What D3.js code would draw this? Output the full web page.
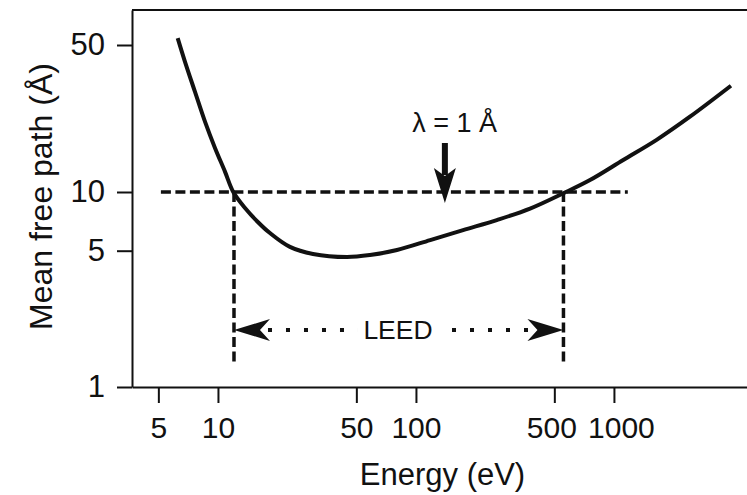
<!DOCTYPE html>
<html>
<head>
<meta charset="utf-8">
<script src="https://cdn.jsdelivr.net/npm/d3@7"></script>
<style>
  body { margin: 0; background: #fff; }
  svg { display: block; font-family: "Liberation Sans", Arial, sans-serif; }
</style>
</head>
<body>
<svg id="chart"></svg>
<script>
// curve: energy (eV) vs mean free path (Å)
const energy = [6.26, 6.81, 7.65, 8.6, 9.66, 10.85, 11.95, 13.7, 15.9, 18.3, 23.1, 30.2, 44.8, 58.6, 80.2, 118, 173, 256, 377, 555, 757, 1114, 1643, 2421, 3899];
const freePath = [53.9, 41.7, 30.0, 21.6, 16.2, 12.5, 10.0, 8.28, 7.02, 6.16, 5.23, 4.81, 4.64, 4.75, 5.04, 5.67, 6.38, 7.18, 8.22, 9.85, 11.4, 14.2, 17.7, 22.8, 32.0];

// tick labels
const xTicks = [5, 10, 50, 100, 500, 1000];
const yTicks = [1, 5, 10, 50];

// annotation values
const refLambda = 10;            // horizontal dashed line
const refRange = [5.15, 1175];   // its energy extent
const leedBounds = [12.05, 556]; // vertical dashed lines
const leedBottom = 1.3;
const leedLevel = 1.96;
const arrowEnergy = 140;
const arrowSpan = [17.1, 8.78];
const labelLambda = { text: "λ = 1 Å", e: 157, l: 19.3 };

const width = 747;
const height = 495;

const svg = d3.select("#chart").attr("width", width).attr("height", height);

// x is a plain log scale, y is piecewise log (the printed axis is not quite even)
const x = d3.scaleLog().domain([3.68, 4700]).range([132, 747]);
const y = d3.scaleLog().domain([1, 10, 50, 73.4]).range([387, 192, 45, 10]);

const ink = "#111";

// axes
const xAxis = svg.append("g")
  .attr("transform", `translate(0,${y(1)})`)
  .call(d3.axisBottom(x).tickValues(xTicks).tickFormat(d3.format("d"))
    .tickSize(16).tickSizeOuter(0).tickPadding(14));

// the printed labels for 500 and 1000 sit slightly apart from their ticks
const labelNudge = { 500: -3, 1000: 7 };
xAxis.selectAll(".tick text").attr("dx", d => labelNudge[d] || 0);

const yAxis = svg.append("g")
  .attr("transform", `translate(${x.range()[0]},0)`)
  .call(d3.axisLeft(y).tickValues(yTicks).tickFormat(d3.format("d"))
    .tickSize(15).tickSizeOuter(0).tickPadding(12));

[xAxis, yAxis].forEach(g => {
  g.selectAll("path, line").attr("stroke", ink).attr("stroke-width", 2);
  g.selectAll("text").attr("fill", ink).style("font-size", "30px")
    .style("font-family", "'Liberation Sans', Arial, sans-serif");
});
yAxis.selectAll("text").style("font-size", "31px");

// top frame line
svg.append("line")
  .attr("x1", x.range()[0]).attr("x2", x.range()[1])
  .attr("y1", y(73.4)).attr("y2", y(73.4))
  .attr("stroke", ink).attr("stroke-width", 2);

// axis titles
svg.append("text")
  .attr("x", (x.range()[0] + x.range()[1]) / 2 + 3)
  .attr("y", 485)
  .attr("text-anchor", "middle")
  .attr("fill", ink)
  .style("font-size", "31px")
  .text("Energy (eV)");

svg.append("text")
  .attr("transform", `translate(52,${(y(1) + y(73.4)) / 2 - 2}) rotate(-90)`)
  .attr("text-anchor", "middle")
  .attr("fill", ink)
  .style("font-size", "32px")
  .text("Mean free path (Å)");

// dashed guide lines
const dash = { stroke: ink, "stroke-width": 3.5, "stroke-dasharray": "10,4.5" };
function styled(sel, attrs) {
  Object.entries(attrs).forEach(([k, v]) => sel.attr(k, v));
  return sel;
}

styled(svg.append("line"), dash)
  .attr("x1", x(refRange[0])).attr("x2", x(refRange[1]))
  .attr("y1", y(refLambda)).attr("y2", y(refLambda));

leedBounds.forEach(e => {
  styled(svg.append("line"), dash)
    .attr("x1", x(e)).attr("x2", x(e))
    .attr("y1", y(refLambda)).attr("y2", y(leedBottom));
});

// main curve
const pts = energy.map((e, i) => [e, freePath[i]]);
svg.append("path")
  .datum(pts)
  .attr("fill", "none")
  .attr("stroke", ink)
  .attr("stroke-width", 4)
  .attr("d", d3.line().x(d => x(d[0])).y(d => y(d[1])).curve(d3.curveCatmullRom.alpha(0.5)));

// LEED arrows with dotted shafts
const ly = y(leedLevel);
const xl = x(leedBounds[0]), xr = x(leedBounds[1]);
const headLen = 36, headHalf = 11, notch = 26;

function arrowHead(tipX, dir) {
  // dir = -1 points left, +1 points right
  const b = tipX - dir * headLen;
  const n = tipX - dir * notch;
  return `M${tipX},${ly} L${b},${ly - headHalf} L${n},${ly} L${b},${ly + headHalf} Z`;
}
svg.append("path").attr("d", arrowHead(xl, -1)).attr("fill", ink);
svg.append("path").attr("d", arrowHead(xr, 1)).attr("fill", ink);

const leedMid = 398;
const dots = { stroke: ink, "stroke-width": 4, "stroke-dasharray": "4,14" };
styled(svg.append("line"), dots)
  .attr("x1", xl + headLen - 2).attr("x2", leedMid - 40)
  .attr("y1", ly).attr("y2", ly);
styled(svg.append("line"), dots)
  .attr("x1", leedMid + 54).attr("x2", xr - headLen + 6)
  .attr("y1", ly).attr("y2", ly);

svg.append("text")
  .attr("x", leedMid)
  .attr("y", ly + 9)
  .attr("text-anchor", "middle")
  .attr("fill", ink)
  .style("font-size", "26.5px")
  .text("LEED");

// lambda = 1 Å arrow
const ax = x(arrowEnergy);
const aTop = y(arrowSpan[0]), aTip = y(arrowSpan[1]);
svg.append("line")
  .attr("x1", ax).attr("x2", ax)
  .attr("y1", aTop).attr("y2", aTip - 28)
  .attr("stroke", ink).attr("stroke-width", 6);
svg.append("path")
  .attr("d", `M${ax},${aTip} L${ax - 11},${aTip - 35} L${ax},${aTip - 27} L${ax + 11},${aTip - 35} Z`)
  .attr("fill", ink);

svg.append("text")
  .attr("x", x(labelLambda.e))
  .attr("y", y(labelLambda.l))
  .attr("text-anchor", "middle")
  .attr("fill", ink)
  .style("font-size", "27px")
  .text(labelLambda.text);
</script>
</body>
</html>
